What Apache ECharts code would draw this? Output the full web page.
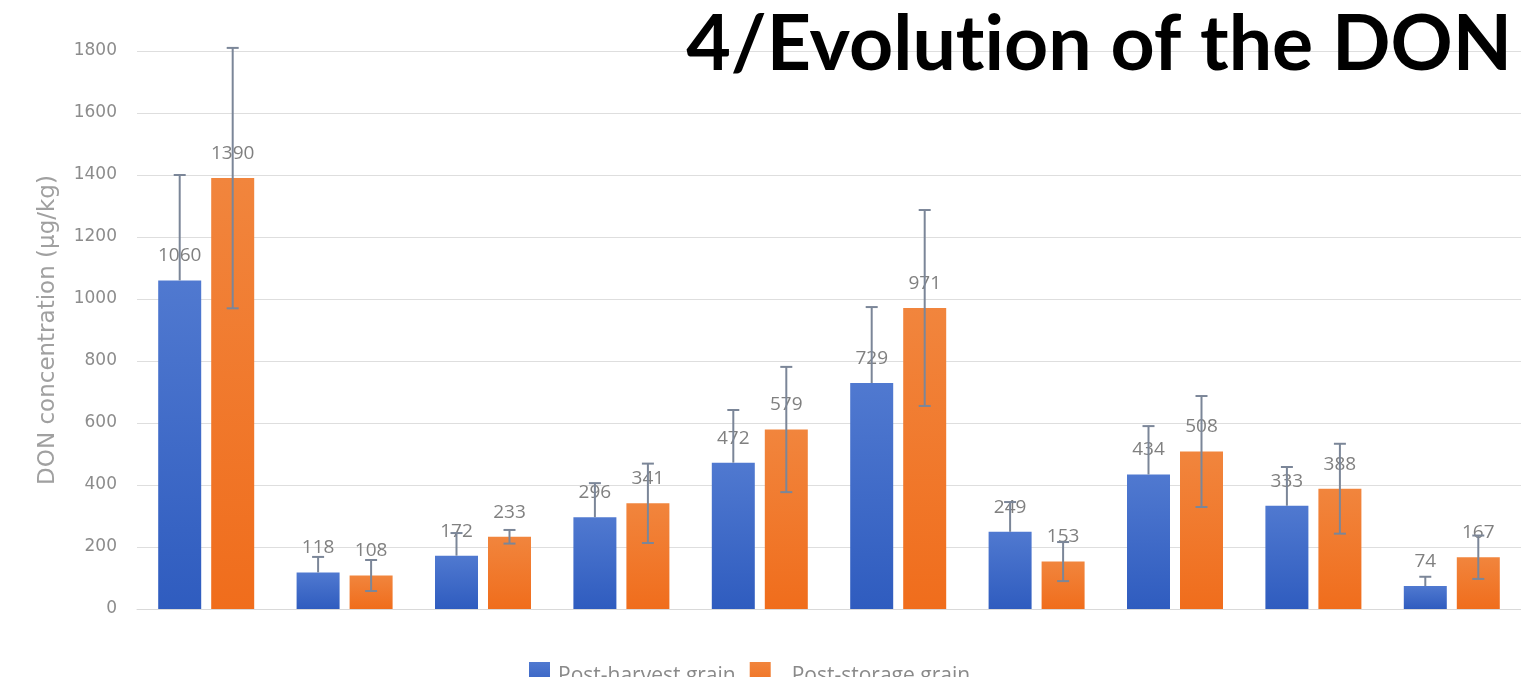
<!DOCTYPE html>
<html>
<head>
<meta charset="utf-8">
<script src="https://cdn.jsdelivr.net/npm/echarts@6/dist/echarts.min.js"></script>
<style>
html,body{margin:0;padding:0;background:#fff;}
#c{width:1521px;height:677px;}
</style>
</head>
<body>
<div id="c"></div>
<script>
// ---- data ----
const categories = ['1','2','3','4','5','6','7','8','9','10'];
const seriesNames = ['Post-harvest grain', 'Post-storage grain'];
const postHarvest = [1060, 118, 172, 296, 472, 729, 249, 434, 333, 74];
const postStorage = [1390, 108, 233, 341, 579, 971, 153, 508, 388, 167];
const postHarvestErr = [340, 50, 73, 110, 170, 245, 96, 156, 125, 30];
const postStorageErr = [420, 50, 22, 128, 202, 316, 63, 179, 145, 70];
const yTicks = [0, 200, 400, 600, 800, 1000, 1200, 1400, 1600, 1800];
const titleText = '4/Evolut\u200Cion of the DON';
const yName = 'DON concentration (µg/kg)';

// ---- chart ----
const BAR_W = 43, BAR_GAP = 10;
const chart = echarts.init(document.getElementById('c'), null, {renderer:'canvas'});

function errSeries(values, errs, side, plusOnly) {
  return {
    type: 'custom',
    z: 5,
    data: values.map((v, i) => [i, plusOnly ? v : v - errs[i], v + errs[i]]),
    encode: {x: 0, y: [1, 2]},
    renderItem: function (params, api) {
      const i = api.value(0);
      const lo = api.coord([i, api.value(1)]);
      const hi = api.coord([i, api.value(2)]);
      const x = lo[0] + side * (BAR_W + BAR_GAP) / 2;
      const cap = 6;
      const st = {stroke: '#7b8698', lineWidth: 2};
      const children = [
        {type: 'line', shape: {x1: x, y1: hi[1], x2: x, y2: lo[1]}, style: st},
        {type: 'line', shape: {x1: x - cap, y1: hi[1], x2: x + cap, y2: hi[1]}, style: st}
      ];
      if (!plusOnly) children.push({type: 'line', shape: {x1: x - cap, y1: lo[1], x2: x + cap, y2: lo[1]}, style: st});
      return {type: 'group', children: children};
    }
  };
}

const labelStyle = {show: true, position: 'top', distance: 15, color: '#808080', fontSize: 19, fontFamily: 'Open Sans'};

chart.setOption({
  backgroundColor: '#ffffff',
  animation: false,
  title: {
    text: titleText,
    right: 4, top: 2,
    textStyle: {fontFamily: 'Lato', fontWeight: 'bold', fontSize: 77, color: '#000000'}
  },
  legend: {
    data: [{name: seriesNames[0]}, {name: seriesNames[1], textStyle: {padding: [0, 0, 0, 16]}}],
    left: 524, top: 657,
    itemWidth: 21, itemHeight: 28, itemGap: 14,
    icon: 'rect',
    textStyle: {color: '#8a8a8a', fontSize: 21, fontFamily: 'Open Sans', padding: [0, 0, 0, 3]}
  },
  grid: {left: 137, width: 1400, top: 51, bottom: 68, containLabel: false},
  xAxis: {
    type: 'category', data: categories,
    axisLine: {show: true, lineStyle: {color: '#d9d9d9', width: 1}},
    axisTick: {show: false}, axisLabel: {show: false}
  },
  yAxis: {
    type: 'value', min: yTicks[0], max: yTicks[yTicks.length - 1], interval: yTicks[1] - yTicks[0],
    name: yName, nameLocation: 'middle', nameGap: 77, nameRotate: 90,
    nameTextStyle: {color: '#a0a0a0', fontSize: 23, fontFamily: 'DejaVu Sans'},
    axisLine: {show: false}, axisTick: {show: false},
    axisLabel: {color: '#8c8c8c', fontSize: 17, fontFamily: 'DejaVu Sans', margin: 20, formatter: v => String(v)},
    splitLine: {lineStyle: {color: '#dedede', width: 1}}
  },
  series: [
    {
      name: seriesNames[0], type: 'bar', data: postHarvest, barWidth: BAR_W, barGap: (BAR_GAP / BAR_W * 100) + '%',
      itemStyle: {color: new echarts.graphic.LinearGradient(0, 0, 0, 1, [{offset: 0, color: '#5079d0'}, {offset: 1, color: '#2f5cbf'}])},
      label: labelStyle
    },
    {
      name: seriesNames[1], type: 'bar', data: postStorage, barWidth: BAR_W,
      itemStyle: {color: new echarts.graphic.LinearGradient(0, 0, 0, 1, [{offset: 0, color: '#f1853d'}, {offset: 1, color: '#f06d1c'}])},
      label: labelStyle
    },
    errSeries(postHarvest, postHarvestErr, -1, true),
    errSeries(postStorage, postStorageErr, 1, false)
  ]
});
</script>
</body>
</html>
